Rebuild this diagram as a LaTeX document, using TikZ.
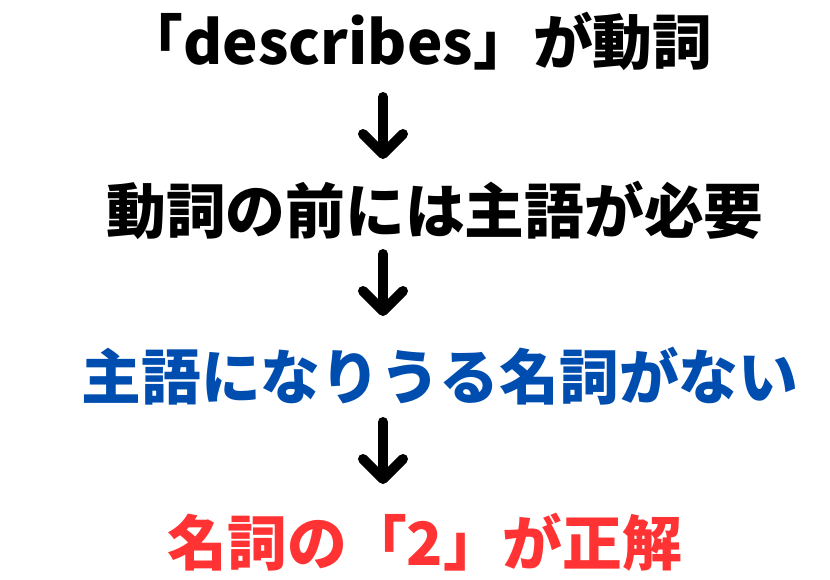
\documentclass[tikz,border=0pt]{standalone}
\usepackage{fontspec}
\newfontfamily\jp{Noto Sans CJK JP}
\usetikzlibrary{arrows.meta}
\definecolor{stepblue}{RGB}{0,77,176}
\definecolor{stepred}{RGB}{255,51,51}
\tikzset{
  line/.style={font=\jp\bfseries\fontsize{17}{20}\selectfont, inner sep=0pt, anchor=center},
  arr/.style={line width=0.1cm, line cap=round, -{Straight Barb[round, length=2.0mm, width=4.0mm]}}
}
\begin{document}
\begin{tikzpicture}
\useasboundingbox (0,0) rectangle (8.3,5.8);
% four lines of reasoning
\node[line] (verb) at (4.18,5.39) {「describes」が動詞};
\node[line] (need) at (4.35,3.70) {動詞の前には主語が必要};
\node[line, text=stepblue] (none) at (4.40,2.04) {主語になりうる名詞がない};
\node[line, text=stepred] (ans) at (4.25,0.38) {名詞の「2」が正解};
% arrows between them
\coordinate (a1) at (3.83,4.83); \coordinate (b1) at (3.83,4.21);
\coordinate (a2) at (3.83,3.26); \coordinate (b2) at (3.83,2.64);
\coordinate (a3) at (3.83,1.58); \coordinate (b3) at (3.83,0.96);
\draw[arr] (a1) -- (b1);
\draw[arr] (a2) -- (b2);
\draw[arr] (a3) -- (b3);
\end{tikzpicture}
\end{document}
